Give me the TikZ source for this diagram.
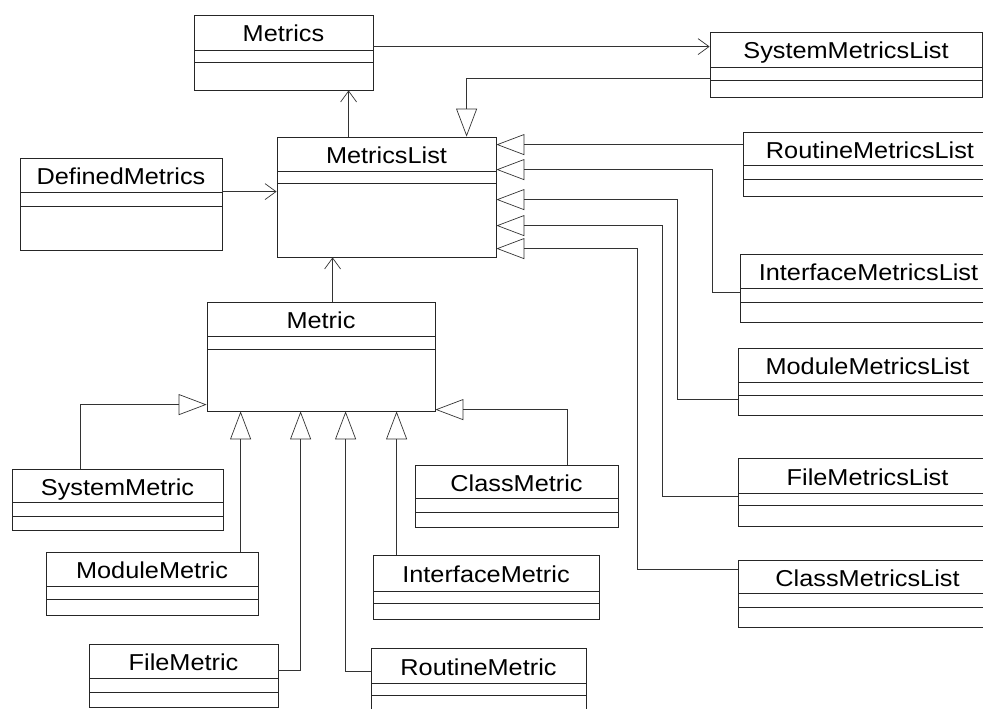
\documentclass[tikz,border=0pt]{standalone}
\usepackage{fontspec}
\setmainfont{Liberation Sans}[FakeStretch=1.1]
\usetikzlibrary{arrows.meta,calc,fit}
\tikzset{
 classframe/.style={draw=black!85, line width=0.8pt, inner sep=0pt},
 classname/.style={font=\fontsize{23}{27}\selectfont, inner sep=0pt, text=black, anchor=base},
 sepline/.style={draw=black!85, line width=0.8pt},
 assoc/.style={draw=black!80, line width=0.7pt, -{Straight Barb[length=11pt,width=16pt]}},
 inh/.style={draw=black!80, line width=0.7pt, -{Triangle[open,length=28pt,width=21pt]}},
}
\newcommand\umlbox[8]{%
 \node[classframe, fit={(#2,#3) (#4,#5)}] (#1) {};
 \draw[sepline] (#2,#6) -- (#4,#6) (#2,#7) -- (#4,#7);
 \node[classname] (#1-t) at ({(#2+#4)/2},{(#3+#6)/2+9.5}) {#8};
}
\begin{document}
\begin{tikzpicture}[x=1pt,y=-1pt]
\useasboundingbox (0,0) rectangle (983,709);
\clip (0,0) rectangle (983,709);
% boxes
\umlbox{metrics}{194}{15}{373}{90}{50}{62}{Metrics}
\umlbox{sysML}{710}{32}{982}{97}{67}{80}{SystemMetricsList}
\umlbox{mList}{277}{137}{496}{257}{171}{183}{MetricsList}
\umlbox{defined}{20}{158}{222}{250}{192}{206}{DefinedMetrics}
\umlbox{routineML}{743}{132}{997}{196}{165}{179}{RoutineMetricsList}
\umlbox{interfaceML}{740}{254}{997}{322}{288}{302}{InterfaceMetricsList}
\umlbox{moduleML}{738}{348}{997}{415}{382}{395}{ModuleMetricsList}
\umlbox{fileML}{738}{458}{997}{526}{493}{505}{FileMetricsList}
\umlbox{classML}{738}{560}{997}{627}{593}{607}{ClassMetricsList}
\umlbox{metric}{207}{302}{435}{411}{336}{349}{Metric}
\umlbox{systemM}{12}{469}{223}{530}{502}{516}{SystemMetric}
\umlbox{classM}{415}{465}{618}{527}{498}{512}{ClassMetric}
\umlbox{moduleM}{46}{552}{258}{615}{586}{599}{ModuleMetric}
\umlbox{interfaceM}{373}{555}{599}{619}{591}{603}{InterfaceMetric}
\umlbox{fileM}{89}{644}{278}{707}{678}{692}{FileMetric}
\umlbox{routineM}{371}{648}{586}{715}{683}{695}{RoutineMetric}
% associations
\draw[assoc] ($(metrics.north east)+(0,32)$) -- ($(sysML.north west)+(0,15)$);
\coordinate (b3) at ($(mList.north west)+(72,0)$);
\draw[assoc] (b3) -- (b3 |- metrics.south);
\coordinate (d4) at ($(defined.north east)+(0,34)$);
\draw[assoc] (d4) -- (d4 -| mList.west);
\coordinate (b5) at ($(metric.north west)+(126,0)$);
\draw[assoc] (b5) -- (b5 |- mList.south);
% generalisations to MetricsList
\coordinate (b2) at ($(mList.north west)+(190,0)$);
\draw[inh] ($(sysML.north west)+(0,47)$) -| (b2);
\coordinate (r6) at ($(routineML.north west)+(0,13)$);
\draw[inh] (r6) -- (r6 -| mList.east);
\draw[inh] ($(interfaceML.north west)+(0,39)$) -- ++(-27,0) |- ($(mList.north east)+(0,33)$);
\draw[inh] ($(moduleML.north west)+(0,52)$) -- ++(-60,0) |- ($(mList.north east)+(0,63)$);
\draw[inh] ($(fileML.north west)+(0,39)$) -- ++(-75,0) |- ($(mList.north east)+(0,89)$);
\draw[inh] ($(classML.north west)+(0,10)$) -- ++(-100,0) |- ($(mList.north east)+(0,112)$);
% generalisations to Metric
\draw[inh] ($(systemM.north west)+(69,0)$) |- ($(metric.north west)+(0,103)$);
\coordinate (m12) at ($(moduleM.north west)+(195,0)$);
\draw[inh] (m12) -- (m12 |- metric.south);
\draw[inh] ($(fileM.north east)+(0,27)$) -| ($(metric.south west)+(94,0)$);
\draw[inh] ($(routineM.north west)+(0,24)$) -| ($(metric.south west)+(139,0)$);
\coordinate (m15) at ($(interfaceM.north west)+(24,0)$);
\draw[inh] (m15) -- (m15 |- metric.south);
\draw[inh] ($(classM.north west)+(153,0)$) |- ($(metric.north east)+(0,108)$);
\end{tikzpicture}
\end{document}
